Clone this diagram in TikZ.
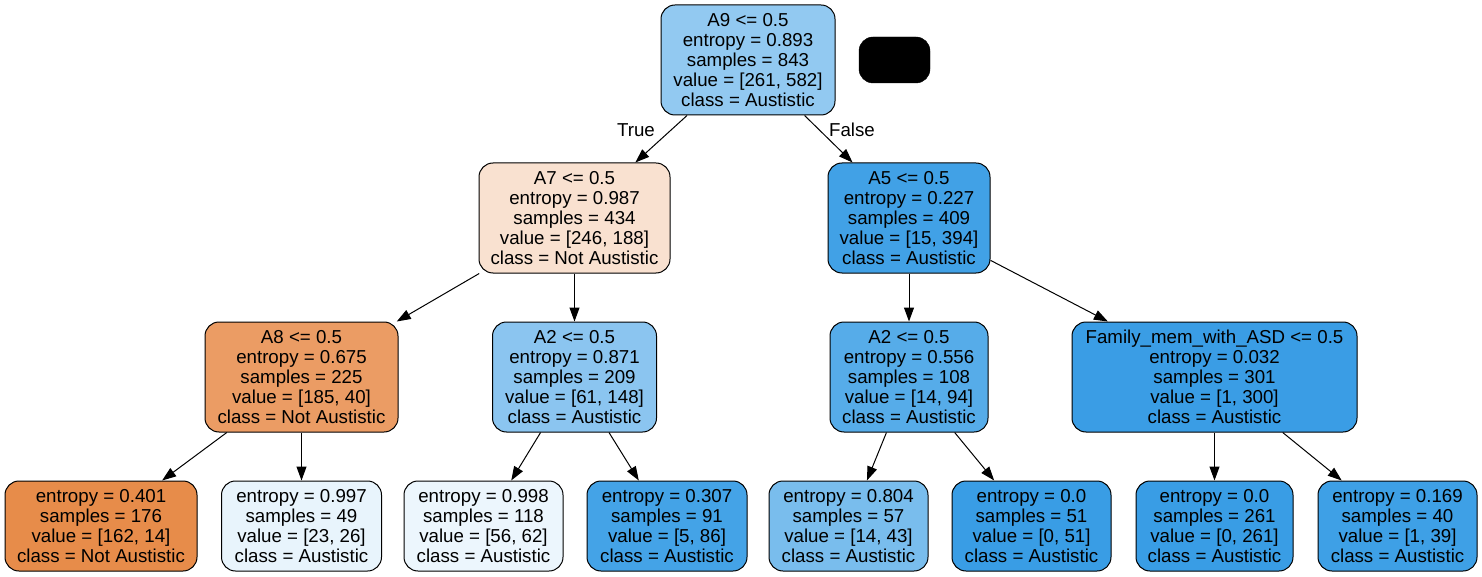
\documentclass[tikz,border=0pt]{standalone}
\usepackage{fontspec}
\setmainfont{Liberation Sans}
\usetikzlibrary{arrows.meta}

% node fill colours (orange = Not Austistic, blue = Austistic)
\definecolor{cRoot}{RGB}{146,201,241}
\definecolor{cAseven}{RGB}{249,225,208}
\definecolor{cAfive}{RGB}{65,161,230}
\definecolor{cAeight}{RGB}{235,156,100}
\definecolor{cAtwoL}{RGB}{139,197,240}
\definecolor{cAtwoR}{RGB}{86,172,233}
\definecolor{cFam}{RGB}{58,157,229}
\definecolor{cLa}{RGB}{231,140,74}
\definecolor{cLb}{RGB}{232,244,252}
\definecolor{cLc}{RGB}{236,246,253}
\definecolor{cLd}{RGB}{68,163,231}
\definecolor{cLe}{RGB}{121,189,237}
\definecolor{cLf}{RGB}{57,157,229}
\definecolor{cLg}{RGB}{57,157,229}
\definecolor{cLh}{RGB}{62,160,230}

\begin{document}
\begin{tikzpicture}[x=1pt,y=-1pt,
  every node/.style={font=\fontsize{18.7}{20}\selectfont},
  treenode/.style={draw=black, line width=1pt, rounded corners=14pt,
    align=center, inner sep=2pt, minimum height=110pt},
  leafnode/.style={treenode, minimum height=90pt},
  edgelabel/.style={inner sep=0pt},
  link/.style={line width=1pt, -{Triangle[length=14pt,width=10pt]}}]

\useasboundingbox (0,0) rectangle (1482,577);

% root and legend block
\node[treenode, fill=cRoot, minimum width=174pt] (root) at (748,60)
  {A9 <= 0.5\\entropy = 0.893\\samples = 843\\value = [261, 582]\\class = Austistic};
\node[draw=black, fill=black, rounded corners=14pt, minimum width=71pt,
  minimum height=46pt] (legend) at (894.5,60) {};

% second level
\node[treenode, fill=cAseven, minimum width=191pt] (a7) at (574.5,218)
  {A7 <= 0.5\\entropy = 0.987\\samples = 434\\value = [246, 188]\\class = Not Austistic};
\node[treenode, fill=cAfive, minimum width=162pt] (a5) at (909,218)
  {A5 <= 0.5\\entropy = 0.227\\samples = 409\\value = [15, 394]\\class = Austistic};

% third level
\node[treenode, fill=cAeight, minimum width=193pt] (a8) at (301.5,377)
  {A8 <= 0.5\\entropy = 0.675\\samples = 225\\value = [185, 40]\\class = Not Austistic};
\node[treenode, fill=cAtwoL, minimum width=164pt] (a2l) at (574.5,377)
  {A2 <= 0.5\\entropy = 0.871\\samples = 209\\value = [61, 148]\\class = Austistic};
\node[treenode, fill=cAtwoR, minimum width=158pt] (a2r) at (909,377)
  {A2 <= 0.5\\entropy = 0.556\\samples = 108\\value = [14, 94]\\class = Austistic};
\node[treenode, fill=cFam, minimum width=285pt] (fam) at (1214.5,377)
  {Family\_mem\_with\_ASD <= 0.5\\entropy = 0.032\\samples = 301\\value = [1, 300]\\class = Austistic};

% leaves
\node[leafnode, fill=cLa, minimum width=192pt] (l1) at (101,526)
  {entropy = 0.401\\samples = 176\\value = [162, 14]\\class = Not Austistic};
\node[leafnode, fill=cLb, minimum width=160pt] (l2) at (301.5,526)
  {entropy = 0.997\\samples = 49\\value = [23, 26]\\class = Austistic};
\node[leafnode, fill=cLc, minimum width=159pt] (l3) at (483.5,526)
  {entropy = 0.998\\samples = 118\\value = [56, 62]\\class = Austistic};
\node[leafnode, fill=cLd, minimum width=160pt] (l4) at (667,526)
  {entropy = 0.307\\samples = 91\\value = [5, 86]\\class = Austistic};
\node[leafnode, fill=cLe, minimum width=159pt] (l5) at (848.5,526)
  {entropy = 0.804\\samples = 57\\value = [14, 43]\\class = Austistic};
\node[leafnode, fill=cLf, minimum width=159pt] (l6) at (1031.5,526)
  {entropy = 0.0\\samples = 51\\value = [0, 51]\\class = Austistic};
\node[leafnode, fill=cLg, minimum width=157pt] (l7) at (1214.5,526)
  {entropy = 0.0\\samples = 261\\value = [0, 261]\\class = Austistic};
\node[leafnode, fill=cLh, minimum width=159pt] (l8) at (1397.5,526)
  {entropy = 0.169\\samples = 40\\value = [1, 39]\\class = Austistic};

% branches
\draw[link] (root) -- (a7);
\draw[link] (root) -- (a5);
\draw[link] (a7) -- (a8);
\draw[link] (a7) -- (a2l);
\draw[link] (a5) -- (a2r);
\draw[link] (a5) -- (fam);
\draw[link] (a8) -- (l1);
\draw[link] (a8) -- (l2);
\draw[link] (a2l) -- (l3);
\draw[link] (a2l) -- (l4);
\draw[link] (a2r) -- (l5);
\draw[link] (a2r) -- (l6);
\draw[link] (fam) -- (l7);
\draw[link] (fam) -- (l8);

% branch labels
\node[edgelabel] (ltrue) at (636,130) {True};
\node[edgelabel] (lfalse) at (852,130) {False};
\end{tikzpicture}
\end{document}
